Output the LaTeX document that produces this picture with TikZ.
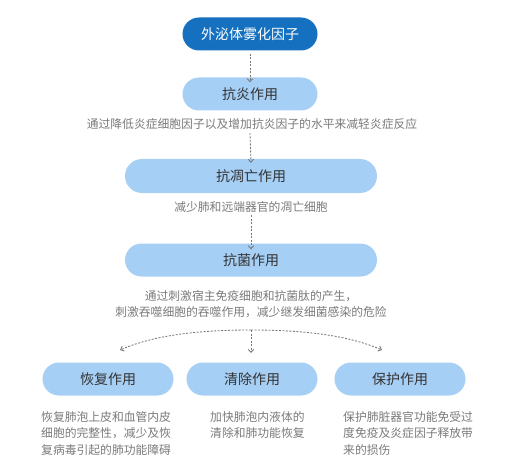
\documentclass[tikz,border=0pt]{standalone}
\usepackage{fontspec}
\setmainfont{Noto Sans CJK SC}
\usetikzlibrary{arrows.meta}
\definecolor{darkblue}{HTML}{1570BF}
\definecolor{lightblue}{HTML}{A6CFF5}
\definecolor{desc}{HTML}{7A7A7A}
\definecolor{title}{HTML}{333333}
\definecolor{arr}{HTML}{777777}
\begin{document}
\begin{tikzpicture}[x=1pt,y=-1pt,
  pill/.style={rounded corners=16.5pt, fill=lightblue, minimum height=33pt, inner sep=0pt, font=\fontsize{14}{16}\selectfont, text=title},
  toppill/.style={pill, fill=darkblue, text=white},
  desctext/.style={font=\fontsize{11.8}{16.5}\selectfont, text=desc, inner sep=0pt},
  flow/.style={draw=arr, dashed, dash pattern=on 2pt off 1.5pt, line width=0.85pt, -{Straight Barb[length=3pt,width=5.5pt]}}]
\useasboundingbox (0,0) rectangle (526,470);
\node[toppill, minimum width=135pt] (top) at (250,34) {外泌体雾化因子};
\node[pill, minimum width=135pt] (anti1) at (250,94) {抗炎作用};
\node[desctext] (d1) at (252,124) {通过降低炎症细胞因子以及增加抗炎因子的水平来减轻炎症反应};
\node[pill, minimum width=252pt, minimum height=34pt, rounded corners=17pt] (anti2) at (251,176) {抗凋亡作用};
\node[desctext] (d2) at (251,207) {减少肺和远端器官的凋亡细胞};
\node[pill, minimum width=252pt] (anti3) at (251,260) {抗菌作用};
\node[desctext, align=center] (d3) at (251,304) {通过刺激宿主免疫细胞和抗菌肽的产生，\\刺激吞噬细胞的吞噬作用，减少继发细菌感染的危险};
\node[pill, minimum width=131pt] (b1) at (108,379) {恢复作用};
\node[pill, minimum width=131pt] (b2) at (252,379) {清除作用};
\node[pill, minimum width=131pt] (b3) at (400,379) {保护作用};
\node[desctext, align=left, anchor=north west] (t1) at (41,411) {恢复肺泡上皮和血管内皮\\细胞的完整性，减少及恢\\复病毒引起的肺功能障碍};
\node[desctext, align=left, anchor=north west] (t2) at (210,411) {加快肺泡内液体的\\清除和肺功能恢复};
\node[desctext, align=left, anchor=north west] (t3) at (343,411) {保护肺脏器官功能免受过\\度免疫及炎症因子释放带\\来的损伤};
\coordinate (split) at (251,330);
\draw[flow] (top.south) ++(0,3) -- ([yshift=-5pt]anti1.north);
\draw[flow] (250,133) -- ([yshift=-4pt]anti2.north);
\draw[flow] (251,215) -- ([yshift=-6pt]anti3.north);
\draw[flow] (split) -- (251,353);
\draw[flow] (split) .. controls (190,330) and (150,337) .. (120,350);
\draw[flow] (split) .. controls (312,330) and (352,337) .. (382,350);
\end{tikzpicture}
\end{document}
